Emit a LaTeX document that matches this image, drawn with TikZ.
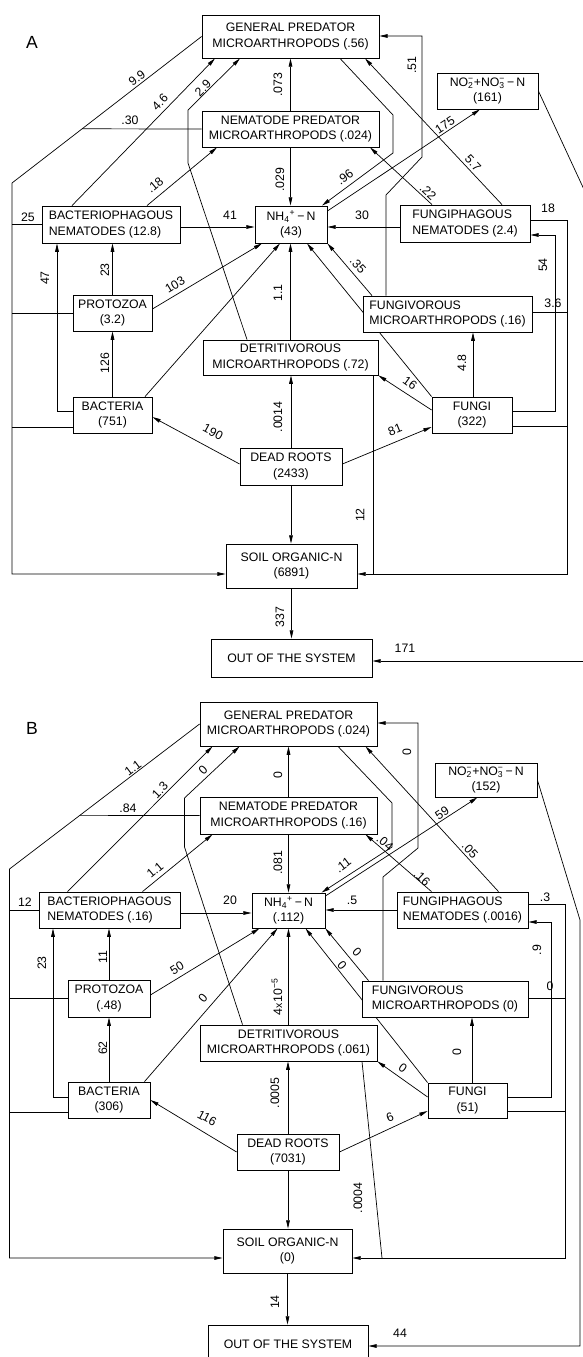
\documentclass[tikz,border=0pt]{standalone}
\usepackage{fontspec}
\setmainfont{Liberation Sans}
\usetikzlibrary{arrows.meta,calc,backgrounds}
\newcommand{\nox}{NO\rlap{\textsubscript{2}}\textsuperscript{−}+NO\rlap{\textsubscript{3}}\textsuperscript{−}\,−\,N}
\newcommand{\nhx}{NH\textsubscript{4}\textsuperscript{+}\,−\,N}
\tikzset{
  pool/.style={draw, fill=white, line width=0.7pt, align=center, inner sep=1pt},
  flow/.style={line width=0.6pt, -{Triangle[length=2.5mm,width=1.1mm]}},
  link/.style={line width=0.6pt},
  val/.style={inner sep=0pt},
  tag/.style={font=\fontsize{15}{15}\selectfont},
}
\begin{document}
\begin{tikzpicture}[x=0.3mm, y=-0.3mm, font=\fontsize{10.5}{13.5}\selectfont]
\useasboundingbox (0,0) rectangle (582,1357);

\begin{scope}[name prefix=a-]
\node[tag] (tag) at (32,42) {A};
\node[pool, minimum width=53.1mm, minimum height=12.9mm] (GP) at (290.5,36.5) {GENERAL PREDATOR\\MICROARTHROPODS (.56)};
\node[pool, minimum width=53.1mm, minimum height=10.8mm] (NP) at (290.5,129) {NEMATODE PREDATOR\\MICROARTHROPODS (.024)};
\node[pool, minimum width=30.3mm, minimum height=10.8mm] (NO) at (487.5,91) {\nox\\(161)};
\node[pool, align=left, minimum width=41.4mm, minimum height=11.1mm] (BN) at (111,224.5) {BACTERIOPHAGOUS\\NEMATODES (12.8)};
\node[pool, minimum width=21.6mm, minimum height=11.1mm] (NH) at (291,224.5) {\nhx\\(43)};
\node[pool, align=left, minimum width=39mm, minimum height=11.1mm] (FN) at (465,223.5) {FUNGIPHAGOUS\\NEMATODES (2.4)};
\node[pool, minimum width=23.7mm, minimum height=10.8mm] (PR) at (112.5,313) {PROTOZOA\\(3.2)};
\node[pool, align=left, minimum width=50.7mm, minimum height=10.8mm] (FV) at (447.5,314) {FUNGIVOROUS\\MICROARTHROPODS (.16)};
\node[pool, minimum width=52.5mm, minimum height=10.5mm] (DT) at (290.5,357.5) {DETRITIVOROUS\\MICROARTHROPODS (.72)};
\node[pool, minimum width=23.7mm, minimum height=10.8mm] (BA) at (112.5,415) {BACTERIA\\(751)};
\node[pool, minimum width=24mm, minimum height=10.8mm] (FU) at (472,415) {FUNGI\\(322)};
\node[pool, minimum width=30.6mm, minimum height=11.1mm] (DR) at (291,466.5) {DEAD ROOTS\\(2433)};
\node[pool, minimum width=39.3mm, minimum height=13.2mm] (SO) at (291.5,566) {SOIL ORGANIC-N\\(6891)};
\node[pool, minimum width=48.3mm, minimum height=11.4mm] (OUT) at (291.5,658) {OUT OF THE SYSTEM};
\coordinate (noexit) at (612,250);
\coordinate (outentry) at (612,661);

\draw[flow] (GP.west) -- (12,183) coordinate (lc) -- (12,574) -- (SO.west |- 0,574);
\draw[link] (NP.west) -- ($(lc)!0.37!(GP.west)$);
\draw[link] (BN.west) -- (BN.west -| lc);
\draw[link] (PR.west) -- (PR.west -| lc);
\draw[link] (BA.west |- 0,427) -- (lc |- 0,427);
\draw[flow] (BA.west |- 0,411) -- (57,411) -- (BN.south -| 57,0);
\draw[flow] (BA.north) -- (PR.south);
\draw[flow] (PR.north) -- (PR.north |- BN.south);
\draw[flow] (BN.north -| 72,0) -- (GP.south -| 215,0);
\draw[flow] (DT.north -| 247,0) -- (188,163) -- (188,110) -- (GP.south -| 240,0);
\draw[flow] (BN.north -| 147,0) -- (NP.south -| 217,0);
\draw[flow] (NP.north) -- (NP.north |- GP.south);
\draw[flow] (NP.south) -- (NP.south |- NH.north);
\draw[flow] (BN.east |- 0,227) -- (NH.west |- 0,227);
\draw[flow] (FN.west |- 0,227) -- (NH.east |- 0,227);
\draw[flow] (PR.east |- 0,309) -- (NH.south -| 262,0);
\draw[flow] (BA.north -| 145,0) -- (NH.south -| 280,0);
\draw[flow] (DT.north) -- (DT.north |- NH.south);
\draw[flow] (DR.north) -- (DR.north |- DT.south);
\draw[flow] (DR.west |- 0,464) -- (BA.east |- 0,417);
\draw[flow] (DR.east |- 0,464) -- (FU.west |- 0,427);
\draw[flow] (DR.south) -- (DR.south |- SO.north);
\draw[flow] (SO.south) -- (SO.south |- OUT.north);
\draw[link] (DT.south -| 373,0) -- (373,574);
\draw[flow] (FN.east |- 0,220) -- (567,220) coordinate (rc) -- (567,574) -- (SO.east |- 0,574);
\draw[link] (FV.east |- 0,312) -- (rc |- 0,312);
\draw[link] (FU.east |- 0,426) -- (rc |- 0,426);
\draw[flow] (FU.east |- 0,411) -- (555,411) -- (555,235) -- (FN.east |- 0,235);
\draw[flow] (FU.north -| 473,0) -- (FV.south -| 473,0);
\draw[flow] (FU.west |- 0,410) -- (DT.south east);
\begin{scope}[on background layer]
\draw[flow] (FU.north west) -- (NH.south -| 307,0);
\end{scope}
\draw[flow] (FV.north -| 372,0) -- (NH.south east);
\draw[flow] (FV.north -| 386,0) -- (386,195) -- (422,157) -- (422,36) -- (GP.east |- 0,36);
\draw[flow] (GP.south -| 340,0) -- (393,115) -- (393,153) -- (NH.north -| 322,0);
\draw[flow] (NH.east |- 0,211) -- (NO.south -| 480,0);
\draw[flow] (FN.north -| 502,0) -- (GP.south -| 365,0);
\draw[flow] (FN.north -| 432,0) -- (NP.south -| 370,0);
\draw[link] (NO.east) -- (noexit);
\draw[flow] (outentry) -- (OUT.east |- outentry);

\node[val, rotate=37] (v1) at (137,78) {9.9};
\node[val] (v2) at (130,120) {.30};
\node[val, rotate=46] (v3) at (160,102) {4.6};
\node[val, rotate=45] (v4) at (203,88) {2.9};
\node[val, rotate=90] (v5) at (278,85) {.073};
\node[val, rotate=40] (v6) at (155,185) {.18};
\node[val, rotate=90] (v7) at (280,180) {.029};
\node[val] (v8) at (28,217) {25};
\node[val] (v9) at (230,215) {41};
\node[val, rotate=90] (v10) at (45,278) {47};
\node[val, rotate=90] (v11) at (105,270) {23};
\node[val, rotate=31] (v12) at (175,285) {103};
\node[val, rotate=90] (v13) at (105,363) {126};
\node[val, rotate=90] (v14) at (278,293) {1.1};
\node[val, rotate=90] (v15) at (278,417) {.0014};
\node[val, rotate=-28] (v16) at (213,432) {190};
\node[val, rotate=22] (v17) at (395,430) {81};
\node[val, rotate=-36] (v18) at (410,383) {16};
\node[val, rotate=90] (v19) at (462,363) {4.8};
\node[val, rotate=-47] (v20) at (358,265) {.35};
\node[val, rotate=90] (v21) at (543,265) {54};
\node[val] (v22) at (553,303) {3.6};
\node[val] (v23) at (548,208) {18};
\node[val] (v24) at (362,215) {30};
\node[val, rotate=-43] (v25) at (428,192) {.22};
\node[val, rotate=-47] (v26) at (473,163) {5.7};
\node[val, rotate=37] (v27) at (345,177) {.96};
\node[val, rotate=33] (v28) at (445,125) {175};
\node[val, rotate=90] (v29) at (412,65) {.51};
\node[val, rotate=90] (v30) at (360,515) {12};
\node[val, rotate=90] (v31) at (280,617) {337};
\node[val] (v32) at (405,648) {171};
\end{scope}

\begin{scope}[name prefix=b-, shift={(-2.5,686)}]
\node[tag] (tag) at (34.5,42) {B};
\node[pool, minimum width=53.1mm, minimum height=13.2mm] (GP) at (291,38) {GENERAL PREDATOR\\MICROARTHROPODS (.024)};
\node[pool, minimum width=53.1mm, minimum height=11.1mm] (NP) at (291,129.5) {NEMATODE PREDATOR\\MICROARTHROPODS (.16)};
\node[pool, minimum width=30.6mm, minimum height=10.2mm] (NO) at (488.5,94) {\nox\\(152)};
\node[pool, align=left, minimum width=42.3mm, minimum height=10.8mm] (BN) at (112,224) {BACTERIOPHAGOUS\\NEMATODES (.16)};
\node[pool, minimum width=21.9mm, minimum height=10.5mm] (NH) at (291,224.5) {\nhx\\(.112)};
\node[pool, align=left, minimum width=39.3mm, minimum height=10.8mm] (FN) at (465,224) {FUNGIPHAGOUS\\NEMATODES (.0016)};
\node[pool, minimum width=24.6mm, minimum height=11.1mm] (PR) at (111.5,312.5) {PROTOZOA\\(.48)};
\node[pool, align=left, minimum width=49.8mm, minimum height=10.8mm] (FV) at (447.5,313) {FUNGIVOROUS\\MICROARTHROPODS (0)};
\node[pool, minimum width=53.1mm, minimum height=10.8mm] (DT) at (291,357) {DETRITIVOROUS\\MICROARTHROPODS (.061)};
\node[pool, minimum width=24.6mm, minimum height=10.8mm] (BA) at (111.5,414) {BACTERIA\\(306)};
\node[pool, minimum width=23.7mm, minimum height=10.5mm] (FU) at (470,414.5) {FUNGI\\(51)};
\node[pool, minimum width=30.6mm, minimum height=10.8mm] (DR) at (290.5,466) {DEAD ROOTS\\(7031)};
\node[pool, minimum width=38.7mm, minimum height=13.2mm] (SO) at (290,565) {SOIL ORGANIC-N\\(0)};
\node[pool, minimum width=48mm, minimum height=11.4mm] (OUT) at (290.5,658) {OUT OF THE SYSTEM};
\coordinate (nobend) at (582.5,234);

\draw[flow] (GP.west) -- (12,183) coordinate (lc) -- (12,572) -- (SO.west |- 0,572);
\draw[link] (NP.west) -- ($(lc)!0.37!(GP.west)$);
\draw[link] (BN.west) -- (BN.west -| lc);
\draw[link] (PR.west) -- (PR.west -| lc);
\draw[link] (BA.west |- 0,426) -- (lc |- 0,426);
\draw[flow] (BA.west |- 0,411) -- (55.5,411) -- (BN.south -| 55.5,0);
\draw[flow] (BA.north) -- (PR.south);
\draw[flow] (PR.north) -- (PR.north |- BN.south);
\draw[flow] (BN.north -| 70,0) -- (GP.south -| 215,0);
\draw[flow] (DT.north -| 245,0) -- (187,161) -- (187,112) -- (GP.south -| 242,0);
\draw[flow] (BN.north -| 145,0) -- (NP.south -| 215,0);
\draw[flow] (NP.north) -- (NP.north |- GP.south);
\draw[flow] (NP.south) -- (NP.south |- NH.north);
\draw[flow] (BN.east |- 0,227) -- (NH.west |- 0,227);
\draw[flow] (FN.west |- 0,224) -- (NH.east |- 0,224);
\draw[flow] (PR.east |- 0,309) -- (NH.south -| 262,0);
\draw[flow] (BA.north -| 147,0) -- (NH.south -| 280,0);
\draw[flow] (DT.north) -- (DT.north |- NH.south);
\draw[flow] (DR.north) -- (DR.north |- DT.south);
\draw[flow] (DR.west |- 0,466) -- (BA.east |- 0,414);
\draw[flow] (DR.east |- 0,466) -- (FU.west |- 0,425);
\draw[flow] (DR.south) -- (DR.south |- SO.north);
\draw[flow] (SO.south) -- (SO.south |- OUT.north);
\draw[link] (DT.south -| 364.5,0) -- (384.5,572);
\draw[flow] (FN.east |- 0,218) -- (567.5,218) coordinate (rc) -- (567.5,572) -- (SO.east |- 0,572);
\draw[link] (FV.east |- 0,312) -- (rc |- 0,312);
\draw[link] (FU.east |- 0,425) -- (rc |- 0,425);
\draw[flow] (FU.east |- 0,411) -- (553.5,411) -- (553.5,236) -- (FN.east |- 0,236);
\draw[flow] (FU.north -| 474.5,0) -- (FV.south -| 474.5,0);
\draw[flow] (FU.west |- 0,411) -- (DT.south east);
\begin{scope}[on background layer]
\draw[flow] (FU.north west) -- (NH.south -| 308,0);
\end{scope}
\draw[flow] (FV.north -| 371,0) -- (NH.south east);
\draw[flow] (FV.north -| 385.5,0) -- (385.5,191) -- (420.5,162) -- (420.5,37) -- (GP.east |- 0,37);
\draw[flow] (GP.south -| 340.5,0) -- (394.5,117) -- (394.5,161) -- (NH.north -| 324,0);
\draw[flow] (NH.east |- 0,210) -- (NO.south -| 480,0);
\draw[flow] (FN.north -| 501,0) -- (GP.south -| 368,0);
\draw[flow] (FN.north -| 434,0) -- (NP.south -| 368,0);
\draw[flow] (NO.east) -- (nobend) -- (582.5,660) -- (OUT.east |- 0,660);

\node[val, rotate=37] (v1) at (135.5,82) {1.1};
\node[val] (v2) at (130.5,122) {.84};
\node[val, rotate=46] (v3) at (162.5,104) {1.3};
\node[val, rotate=45] (v4) at (205.5,84) {0};
\node[val, rotate=90] (v5) at (280.5,89) {0};
\node[val, rotate=40] (v6) at (157.5,184) {1.1};
\node[val, rotate=90] (v7) at (280.5,177) {.081};
\node[val] (v8) at (27.5,216) {12};
\node[val] (v9) at (232.5,214) {20};
\node[val, rotate=90] (v10) at (44.5,277) {23};
\node[val, rotate=90] (v11) at (105.5,271) {11};
\node[val, rotate=31] (v12) at (179.5,282) {50};
\node[val, rotate=49] (v13) at (205.5,312) {0};
\node[val, rotate=90] (v14) at (105.5,362) {62};
\node[val, rotate=90] (v15) at (279.5,311) {4\kern.5pt{\small x}\kern.5pt10\textsuperscript{−5}};
\node[val, rotate=90] (v16) at (277.5,407) {.0005};
\node[val, rotate=-28] (v17) at (209.5,432) {116};
\node[val, rotate=22] (v18) at (392.5,431) {6};
\node[val, rotate=-36] (v19) at (405.5,382) {0};
\node[val, rotate=90] (v20) at (459.5,366) {0};
\node[val, rotate=-47] (v21) at (359.5,266) {0};
\node[val, rotate=-50] (v22) at (344.5,279) {0};
\node[val, rotate=90] (v23) at (539.5,264) {.9};
\node[val] (v24) at (552.5,300) {0};
\node[val] (v25) at (547.5,211) {.3};
\node[val] (v26) at (354.5,214) {.5};
\node[val, rotate=-43] (v27) at (424.5,192) {.16};
\node[val, rotate=-47] (v28) at (472.5,164) {.05};
\node[val, rotate=37] (v29) at (345.5,179) {.11};
\node[val, rotate=-40] (v30) at (387.5,157) {.04};
\node[val, rotate=33] (v31) at (444.5,127) {59};
\node[val, rotate=90] (v32) at (409.5,66) {0};
\node[val, rotate=90] (v33) at (360.5,512) {.0004};
\node[val, rotate=90] (v34) at (277.5,616) {14};
\node[val] (v35) at (402.5,647) {44};
\end{scope}
\end{tikzpicture}
\end{document}
